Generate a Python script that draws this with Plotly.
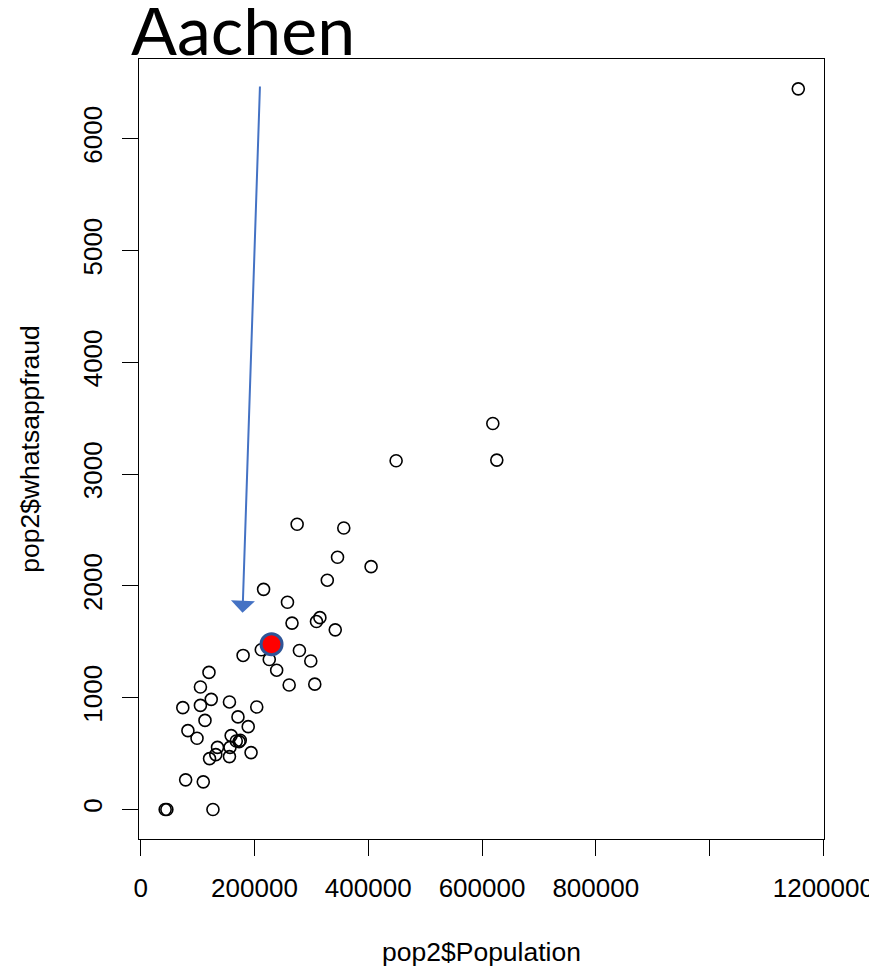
import plotly.graph_objects as go

# ---- data ----
population = [
    1156000, 619000, 449000, 626000, 275000, 357000, 346000, 405000, 328000,
    216000, 258000, 315000, 309000, 266000, 342000, 212000, 279000, 180000,
    299000, 226000, 239000, 261000, 306000, 120000, 105000, 124000, 74000,
    105000, 156000, 204000, 171000, 113000, 189000, 83000, 99000, 159000,
    168000, 173000, 175000, 135000, 157000, 194000, 132000, 121000, 156000,
    79000, 110000, 43000, 46000, 127000, 230000,
]
whatsappfraud = [
    6446, 3453, 3119, 3125, 2551, 2518, 2256, 2172, 2051,
    1969, 1854, 1716, 1681, 1667, 1607, 1429, 1422, 1378,
    1328, 1342, 1246, 1114, 1121, 1226, 1096, 985, 911,
    931, 962, 917, 828, 797, 741, 705, 637, 661,
    613, 607, 619, 556, 556, 509, 491, 455, 473,
    265, 247, 0, 0, 0, 1478,
]

highlight_city = "Aachen"
highlight_population = [230000]
highlight_whatsappfraud = [1478]

x_tick_values = [0, 200000, 400000, 600000, 800000, 1000000, 1200000]
x_tick_labels = ["0", "200000", "400000", "600000", "800000", "", "1200000"]
y_tick_values = [0, 1000, 2000, 3000, 4000, 5000, 6000]
y_tick_labels = ["0", "1000", "2000", "3000", "4000", "5000", "6000"]

x_title = "pop2$Population"
y_title = "pop2$whatsappfraud"

# arrow pointing at the highlighted city (data coordinates)
arrow_tail_x, arrow_tail_y = 209700, 6480
arrow_tip_x, arrow_tip_y = 179000, 1760

FONT = "Liberation Sans, Arial, Helvetica, sans-serif"

fig = go.Figure()

fig.add_trace(go.Scatter(
    x=population, y=whatsappfraud, mode="markers",
    marker=dict(symbol="circle-open", size=12, color="black",
                line=dict(width=1.6, color="black")),
    showlegend=False, hoverinfo="x+y",
))

fig.add_trace(go.Scatter(
    x=highlight_population, y=highlight_whatsappfraud, mode="markers",
    marker=dict(symbol="circle", size=21, color="#FF0000",
                line=dict(width=3, color="#2F5597")),
    showlegend=False, name=highlight_city,
))

fig.add_annotation(
    x=arrow_tip_x, y=arrow_tip_y, ax=arrow_tail_x, ay=arrow_tail_y,
    xref="x", yref="y", axref="x", ayref="y",
    showarrow=True, arrowhead=1, arrowsize=2.0, arrowwidth=2,
    arrowcolor="#4472C4", standoff=0, text="",
)

fig.add_annotation(
    text=highlight_city, xref="paper", yref="paper",
    x=(129 - 139) / 685, y=1 + (59 - 29) / 780,
    xanchor="left", yanchor="middle", showarrow=False,
    font=dict(family="Lato, Noto Sans, sans-serif", size=68, color="black"),
)

axis_common = dict(
    showgrid=False, zeroline=False, showline=True, mirror=True,
    linecolor="black", linewidth=1.3,
    ticks="outside", ticklen=16, tickwidth=1.3, tickcolor="black",
    tickfont=dict(family=FONT, size=26, color="black"),
)

fig.update_xaxes(
    range=[-3000, 1201200], tickmode="array",
    tickvals=x_tick_values, ticktext=x_tick_labels, ticklabelstandoff=10,
    title=dict(text=x_title, font=dict(family=FONT, size=26.5, color="black"), standoff=40),
    **axis_common,
)
fig.update_yaxes(
    range=[-264, 6713], tickmode="array",
    tickvals=y_tick_values, ticktext=y_tick_labels, tickangle=-90, ticklabelstandoff=9,
    title=dict(text=y_title, font=dict(family=FONT, size=26.5, color="black"), standoff=31),
    **axis_common,
)

# the page adds an 8 px body margin, so margins are offset to land the box
# where the reference has it
fig.update_layout(
    width=877, height=967,
    margin=dict(l=131, r=61, t=51, b=136, autoexpand=False),
    paper_bgcolor="white", plot_bgcolor="white",
)

fig.write_html("out.html")
